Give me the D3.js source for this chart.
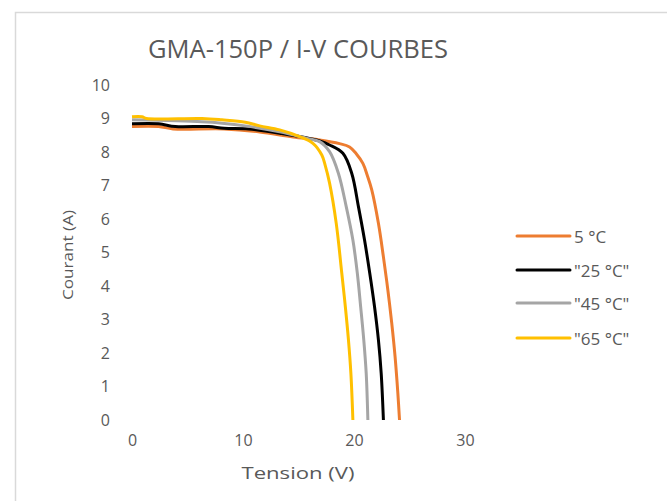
<!DOCTYPE html>
<html>
<head>
<meta charset="utf-8">
<script src="https://cdn.jsdelivr.net/npm/d3@7"></script>
<style>
  body { margin: 0; background: #fff; }
  text { font-family: "Open Sans", sans-serif; fill: #595959; }
</style>
</head>
<body>
<svg id="chart" width="667" height="501"></svg>
<script>
// series names (as shown in legend)
var seriesNames = ['5 °C', '"25 °C"', '"45 °C"', '"65 °C"']
var seriesColors = ["#ED7D31", "#000000", "#A5A5A5", "#FFC000"]

// tension (V) / courant (A)
var v5 = [0, 2.4, 3.7, 8.3, 11.5, 14.5, 16.9, 18.7, 19.6, 20.2, 20.8, 21.2, 21.6, 22.2, 22.65, 23.05, 23.4, 23.7, 23.95, 24.1]
var i5 = [8.76, 8.76, 8.69, 8.69, 8.6, 8.45, 8.36, 8.25, 8.15, 7.95, 7.66, 7.3, 6.87, 5.87, 4.87, 3.88, 2.89, 1.89, 0.8, 0]

var v25 = [0, 2.4, 3.9, 6.9, 8.3, 10.5, 13.3, 16.9, 17.8, 19.0, 19.8, 20.4, 20.95, 21.42, 21.85, 22.2, 22.45, 22.65]
var i25 = [8.84, 8.84, 8.76, 8.76, 8.71, 8.69, 8.56, 8.33, 8.21, 7.96, 7.36, 6.37, 5.37, 4.38, 3.38, 2.39, 1.39, 0]

var v45 = [0, 6.3, 8.1, 10.2, 13.3, 15.7, 16.9, 17.8, 18.6, 19.3, 19.9, 20.3, 20.6, 20.88, 21.1, 21.25]
var i45 = [8.96, 8.9, 8.86, 8.78, 8.6, 8.41, 8.31, 8.01, 7.36, 6.37, 5.37, 4.38, 3.38, 2.39, 1.39, 0]

var v65 = [0, 0.9, 1.3, 6.3, 8.1, 10.2, 11.5, 13.3, 15.1, 16.3, 17.1, 17.4, 17.8, 18.4, 18.9, 19.22, 19.5, 19.72, 19.9]
var i65 = [9.05, 9.05, 9.0, 9.0, 8.96, 8.89, 8.78, 8.66, 8.46, 8.26, 7.91, 7.61, 7.07, 5.87, 4.38, 3.38, 2.39, 1.39, 0]

var xTicks = [0, 10, 20, 30]
var yTicks = [0, 1, 2, 3, 4, 5, 6, 7, 8, 9, 10]

var volts = [v5, v25, v45, v65]
var amps = [i5, i25, i45, i65]

var svg = d3.select("#chart")

// chart area border
svg.append("rect").attr("x", 15.5).attr("y", 12.5).attr("width", 660).attr("height", 520)
    .attr("fill", "#fff").attr("stroke", "#D9D9D9").attr("stroke-width", 1.5)

var x = d3.scaleLinear().domain([0, 30]).range([132, 465])
var y = d3.scaleLinear().domain([0, 10]).range([420, 85])

// axes, no lines just labels
var gx = svg.append("g").attr("transform", "translate(0,420)")
    .call(d3.axisBottom(x).tickValues(xTicks).tickSize(0).tickPadding(15))
var gy = svg.append("g").attr("transform", "translate(132,0)")
    .call(d3.axisLeft(y).tickValues(yTicks).tickSize(0).tickPadding(22))
gx.select(".domain").remove()
gy.select(".domain").remove()
svg.selectAll(".tick text").attr("font-size", "16px").attr("font-family", "Open Sans").attr("fill", "#595959")

// smoothed like the excel lines
var line = d3.line()
    .x(function(d){ return x(d[0]) })
    .y(function(d){ return y(d[1]) })
    .curve(d3.curveCatmullRom.alpha(0.5))

// draw curves
for (var s = 0; s < seriesNames.length; s++) {
    var pts = volts[s].map(function(v, k){ return [v, amps[s][k]] })
    svg.append("path").datum(pts).attr("d", line)
        .attr("fill", "none").attr("stroke", seriesColors[s])
        .attr("stroke-width", 3).attr("stroke-linejoin", "round")
}

// title
svg.append("text").attr("x", 298).attr("y", 58).attr("text-anchor", "middle")
    .attr("font-size", "25px").attr("textLength", 300).attr("lengthAdjust", "spacingAndGlyphs")
    .text("GMA-150P / I-V COURBES")

// axis titles
svg.append("text").attr("transform", "translate(73,255) rotate(-90)")
    .attr("text-anchor", "middle").attr("font-size", "15px")
    .attr("textLength", 90).attr("lengthAdjust", "spacingAndGlyphs")
    .text("Courant (A)")
svg.append("text").attr("x", 298).attr("y", 479).attr("text-anchor", "middle")
    .attr("font-size", "17px").attr("textLength", 113).attr("lengthAdjust", "spacingAndGlyphs")
    .text("Tension (V)")

// legend
var legendY = [236, 270, 303, 338]
var lg = svg.selectAll(".legend").data(seriesNames).enter().append("g").attr("class", "legend")
lg.append("line").attr("x1", 517).attr("x2", 570)
    .attr("y1", function(d, i){ return legendY[i] }).attr("y2", function(d, i){ return legendY[i] })
    .attr("stroke", function(d, i){ return seriesColors[i] }).attr("stroke-width", 3)
    .attr("stroke-linecap", "round")
lg.append("text").attr("x", 574).attr("y", function(d, i){ return legendY[i] })
    .attr("dominant-baseline", "central").attr("font-size", "17px")
    .text(function(d){ return d })
</script>
</body>
</html>
